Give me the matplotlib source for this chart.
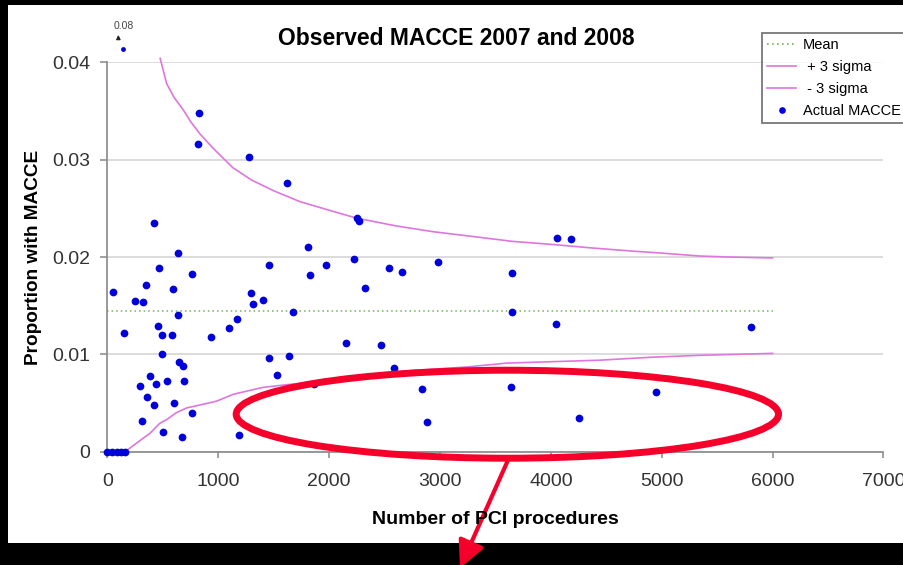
import numpy as np
import matplotlib
matplotlib.use("Agg")
import matplotlib.pyplot as plt
from matplotlib.patches import Rectangle, Ellipse
from matplotlib.lines import Line2D

plt.rcParams['font.family'] = ['Liberation Sans', 'DejaVu Sans']

# hospitals: number of PCI procedures and observed MACCE proportion
pci_count = [0, 40, 85, 122, 158,
             52, 152, 248, 293, 309, 323, 345, 354, 380, 420, 420, 435, 459, 468,
             489, 489, 504, 540, 579, 594, 600, 634, 634, 645, 675, 679, 690, 763,
             765, 820, 825, 931, 1099, 1172, 1190, 1280, 1295, 1310, 1406, 1458,
             1458, 1530, 1623, 1635, 1674, 1810, 1830, 1860, 1975, 2153, 2225,
             2249, 2273, 2324, 2466, 2543, 2580, 2658, 2841, 2881, 2980, 3642,
             3653, 3653, 4042, 4054, 4180, 4255, 4950, 5805]
macce_rate = [0, 0, 0, 0, 0,
              0.0164, 0.0122, 0.0155, 0.0068, 0.0032, 0.0154, 0.0171, 0.0056, 0.0078,
              0.0048, 0.0235, 0.0070, 0.0129, 0.0189, 0.0120, 0.0100, 0.0020, 0.0073,
              0.0120, 0.0167, 0.0050, 0.0204, 0.0140, 0.0092, 0.0015, 0.0088, 0.0073,
              0.0040, 0.0183, 0.0316, 0.0348, 0.0118, 0.0127, 0.0136, 0.0017, 0.0303,
              0.0163, 0.0152, 0.0156, 0.0192, 0.0096, 0.0079, 0.0276, 0.0098, 0.0144,
              0.0210, 0.0181, 0.0070, 0.0192, 0.0112, 0.0198, 0.0240, 0.0237, 0.0168,
              0.0110, 0.0189, 0.0086, 0.0185, 0.0064, 0.0031, 0.0195, 0.0066, 0.0184,
              0.0143, 0.0131, 0.0220, 0.0218, 0.0035, 0.0061, 0.0128]

# off-scale hospital
outlier_count = [143]
outlier_rate = [0.08]

mean_rate = 0.01445
mean_x = [0, 6000]

# control limits
upper_x = [475, 534, 600, 684, 750, 830, 950, 1128, 1300, 1500, 1733, 2000, 2245,
           2600, 2936, 3300, 3658, 4000, 4400, 4741, 5000, 5343, 5600, 6000]
upper_y = [0.0404, 0.0378, 0.0364, 0.0351, 0.0339, 0.0327, 0.0312, 0.0292, 0.0279,
           0.0268, 0.0257, 0.0248, 0.0240, 0.0232, 0.0226, 0.0221, 0.0216, 0.0213,
           0.0209, 0.0206, 0.0204, 0.0201, 0.0200, 0.0199]
lower_x = [0, 158, 300, 384, 470, 534, 620, 715, 835, 986, 1135, 1286, 1400, 1552,
           1800, 2200, 2700, 3237, 3600, 4440, 4900, 5343, 6000]
lower_y = [0, 0, 0.0012, 0.0019, 0.0029, 0.0033, 0.0040, 0.0045, 0.0048, 0.0052,
           0.0059, 0.0063, 0.0066, 0.0068, 0.0071, 0.0077, 0.0083, 0.0087, 0.0091,
           0.0094, 0.0097, 0.0099, 0.0101]

x_ticks = [0, 1000, 2000, 3000, 4000, 5000, 6000, 7000]
y_ticks = [0, 0.01, 0.02, 0.03, 0.04]
y_tick_labels = ['0', '0.01', '0.02', '0.03', '0.04']

W, H = 904, 565
blue = '#0000dd'
pink = '#dd77dd'
green = '#77b25a'
red = '#f5002a'

fig = plt.figure(figsize=(W / 100, H / 100), dpi=100, facecolor='black')
fig.patches.append(Rectangle((8 / W, (H - 543) / H), (W - 8) / W, (543 - 4.5) / H,
                             transform=fig.transFigure, facecolor='white',
                             edgecolor='none', zorder=-10))

ax = fig.add_axes([107.5 / W, (H - 451.7) / H, 776 / W, 389.4 / H])
ax.set_facecolor('none')
ax.set_xlim(0, 7000)
ax.set_ylim(0, 0.04)
ax.set_xticks(x_ticks)
ax.set_yticks(y_ticks)
ax.set_yticklabels(y_tick_labels)
ax.yaxis.grid(True, color='#d9d9d9', lw=1.3)
ax.set_axisbelow(True)
for side in ['top', 'right']:
    ax.spines[side].set_visible(False)
for side in ['left', 'bottom']:
    ax.spines[side].set_color('#888888')
    ax.spines[side].set_linewidth(1.2)
ax.tick_params(axis='y', direction='out', length=4.8, width=1.1, color='#888888',
               labelsize=14, labelcolor='#333333', pad=7.5)
ax.tick_params(axis='x', direction='out', length=4.5, width=1.1, color='#888888',
               labelsize=14, labelcolor='#333333', pad=11)

ax.plot(mean_x, [mean_rate, mean_rate], color=green, lw=1.1, ls=(0, (1, 2)))
ax.plot(upper_x, upper_y, color=pink, lw=1.2, clip_on=False)
ax.plot(lower_x, lower_y, color=pink, lw=1.2)
ax.scatter(pci_count, macce_rate, s=31, color=blue, zorder=3, clip_on=False,
           linewidths=0)

# the off-scale point sits just above the top of the axis
y_cap = 0.0414
ax.scatter(outlier_count, np.minimum(outlier_rate, y_cap), s=12, color=blue,
           marker='o', zorder=3, clip_on=False, linewidths=0)
for n, r in zip(outlier_count, outlier_rate):
    ax.annotate('', xy=(n - 45, 0.0431), xytext=(n - 45, 0.04222),
                arrowprops=dict(arrowstyle='-|>', color='#222222', lw=0.9,
                                mutation_scale=6), annotation_clip=False)
    ax.text(n, 0.0437, f'{r:.2f}', fontsize=7.5, color='#444444', ha='center',
            va='center', clip_on=False)

fig.text(456.5 / W, (H - 45) / H, 'Observed MACCE 2007 and 2008', ha='center',
         va='baseline', fontsize=16.5, fontweight='bold')
fig.text(495.5 / W, (H - 523.5) / H, 'Number of PCI procedures', ha='center',
         va='baseline', fontsize=14, fontweight='bold')
fig.text(34 / W, (H - 257.5) / H, 'Proportion with MACCE', ha='center',
         va='center', rotation=90, fontsize=13.7, fontweight='bold')

handles = [
    Line2D([], [], color=green, lw=1.2, ls=(0, (1, 2))),
    Line2D([], [], color=pink, lw=1.2),
    Line2D([], [], color=pink, lw=1.2),
    Line2D([], [], color=blue, ls='none', marker='o', markersize=4.8, markeredgewidth=0),
]
leg = fig.legend(handles, ['Mean', ' + 3 sigma', ' - 3 sigma', 'Actual MACCE'],
                 loc='upper left', bbox_to_anchor=(762 / W, 1 - 33 / H),
                 fontsize=10.5, frameon=True, fancybox=False, borderaxespad=0,
                 handlelength=2.0, handletextpad=0.45, labelspacing=0.55,
                 borderpad=0.35)
leg.get_frame().set_edgecolor('#555555')
leg.get_frame().set_linewidth(1.3)

# red highlight around the low-rate hospitals
ax.add_patch(Ellipse((3607, 0.00385), 4892, 0.00904, fill=False, edgecolor=red,
                     lw=5, clip_on=False, zorder=5))
ax.annotate('', xy=(460 / W, -3 / H), xycoords='figure fraction',
            xytext=(508.5 / W, (H - 459) / H), textcoords='figure fraction',
            arrowprops=dict(arrowstyle='-|>,head_length=0.9,head_width=0.45',
                            color=red, lw=3, mutation_scale=18, shrinkA=0,
                            shrinkB=0), annotation_clip=False, zorder=6)

fig.savefig('out.png', dpi=100, facecolor=fig.get_facecolor())
